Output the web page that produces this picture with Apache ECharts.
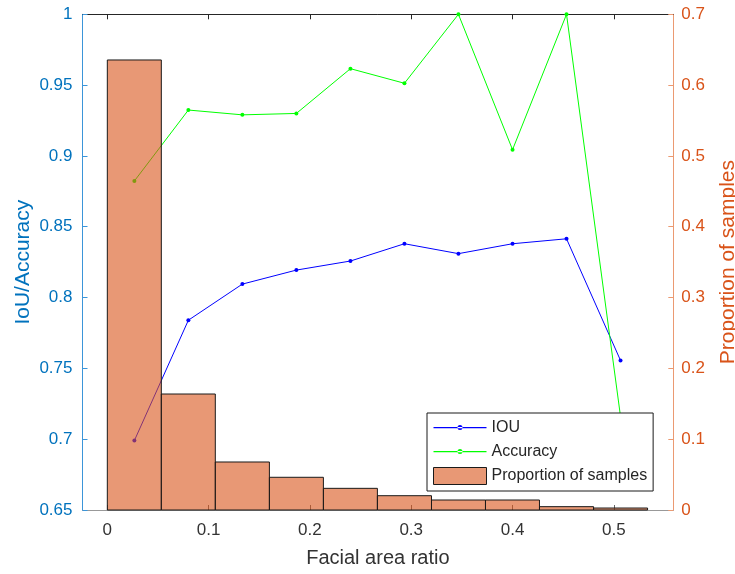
<!DOCTYPE html>
<html>
<head>
<meta charset="utf-8">
<script src="https://cdn.jsdelivr.net/npm/echarts@6/dist/echarts.min.js"></script>
<style>
  html, body { margin: 0; padding: 0; background: #fff; }
  #chart { width: 735px; height: 574px; }
</style>
</head>
<body>
<div id="chart"></div>
<script>
// 直方图的分箱边界（面部面积比）
var binEdges = [0, 0.0533, 0.1066, 0.16, 0.2133, 0.2666, 0.32, 0.3733, 0.4266, 0.48, 0.5333]
// 每个分箱的样本占比
var proportion = [0.6355, 0.1638, 0.0678, 0.0462, 0.0306, 0.0202, 0.0141, 0.0141, 0.0047, 0.0028]
// 折线的横坐标（分箱中心）
var binCenters = [0.0267, 0.08, 0.1333, 0.1866, 0.24, 0.2933, 0.3466, 0.4, 0.4533, 0.5066]
var iouValues = [0.699, 0.784, 0.8095, 0.8194, 0.8258, 0.838, 0.831, 0.838, 0.8415, 0.7556]
var accuracyValues = [0.8823, 0.9324, 0.929, 0.930, 0.9616, 0.9513, 1.0, 0.9044, 1.0, 0.716]
// 刻度
var xTicks = [0, 0.1, 0.2, 0.3, 0.4, 0.5]

var fontFamily = 'Liberation Sans, Arial, sans-serif'
var leftColor = '#0072BD'
var rightColor = '#D95319'
// 图例图标：细线 + 小圆点
var lineDotIcon = 'path://M0,0M53,17M0,8h53v1.2h-53zM24,8.6a2.5,2.5 0 1,0 5,0a2.5,2.5 0 1,0 -5,0z'

let histData = []
proportion.forEach((p, i) => {
  histData.push([binEdges[i], binEdges[i + 1], p])
})
let iouData = binCenters.map((x, i) => [x, iouValues[i]])
let accData = binCenters.map((x, i) => [x, accuracyValues[i]])

let chart = echarts.init(document.getElementById('chart'))
chart.setOption({
  animation: false,
  textStyle: { fontFamily: fontFamily },
  grid: { left: 82.5, right: 61.7, top: 14.3, bottom: 64, containLabel: false, outerBoundsMode: 'none' },
  legend: {
    orient: 'vertical',
    left: 427,
    top: 413,
    itemWidth: 53,
    itemHeight: 17,
    itemGap: 7,
    padding: [6, 6, 6, 6],
    borderColor: '#1a1a1a',
    borderWidth: 1,
    backgroundColor: '#fff',
    textStyle: { fontSize: 16, color: '#262626', fontFamily: fontFamily },
    data: [
      { name: 'IOU', icon: lineDotIcon, itemStyle: { color: '#0000FF', borderWidth: 0 } },
      { name: 'Accuracy', icon: lineDotIcon, itemStyle: { color: '#00FF00', borderWidth: 0 } },
      {
        name: 'Proportion of samples',
        icon: 'rect',
        itemStyle: { color: 'rgba(217,83,25,0.6)', borderColor: '#1a1a1a', borderWidth: 1 }
      }
    ]
  },
  xAxis: [
    {
      type: 'value',
      position: 'bottom',
      min: -0.0245,
      max: 0.5587,
      name: 'Facial area ratio',
      nameLocation: 'middle',
      nameGap: 38,
      nameMoveOverlap: false,
      nameTextStyle: { fontSize: 20, color: '#333', fontFamily: fontFamily },
      axisLine: { show: true, lineStyle: { color: '#999', width: 1 } },
      axisTick: { show: true, inside: true, length: 5, customValues: xTicks, lineStyle: { color: '#666' } },
      axisLabel: { customValues: xTicks, fontSize: 17, color: '#333', margin: 12 },
      splitLine: { show: false }
    },
    {
      type: 'value',
      position: 'top',
      min: -0.0245,
      max: 0.5587,
      axisLine: { show: true, onZero: false, lineStyle: { color: '#262626', width: 1 } },
      axisTick: { show: true, inside: true, length: 5, customValues: xTicks, lineStyle: { color: '#262626' } },
      axisLabel: { show: false },
      splitLine: { show: false }
    }
  ],
  yAxis: [
    {
      type: 'value',
      position: 'left',
      min: 0.65,
      max: 1,
      interval: 0.05,
      name: 'IoU/Accuracy',
      nameLocation: 'middle',
      nameGap: 49,
      nameMoveOverlap: false,
      nameTextStyle: { fontSize: 21, color: leftColor, fontFamily: fontFamily },
      axisLine: { show: true, onZero: false, lineStyle: { color: '#3b95d9', width: 1 } },
      axisTick: { show: true, inside: true, length: 5, lineStyle: { color: '#3b95d9' } },
      axisLabel: { fontSize: 17, color: leftColor, margin: 10 },
      splitLine: { show: false }
    },
    {
      type: 'value',
      position: 'right',
      min: 0,
      max: 0.7,
      interval: 0.1,
      name: 'Proportion of samples',
      nameLocation: 'middle',
      nameGap: 44,
      nameMoveOverlap: false,
      nameTextStyle: { fontSize: 21, color: rightColor, fontFamily: fontFamily },
      axisLine: { show: true, onZero: false, lineStyle: { color: '#eb9a72', width: 1 } },
      axisTick: { show: true, inside: true, length: 5, lineStyle: { color: '#eb9a72' } },
      axisLabel: { fontSize: 17, color: rightColor, margin: 8 },
      splitLine: { show: false }
    }
  ],
  series: [
    {
      name: 'IOU',
      type: 'line',
      xAxisIndex: 0,
      yAxisIndex: 0,
      data: iouData,
      symbol: 'circle',
      symbolSize: 4,
      color: '#0000FF',
      lineStyle: { color: '#0000FF', width: 1 },
      itemStyle: { color: '#0000FF' },
      z: 2
    },
    {
      name: 'Accuracy',
      type: 'line',
      xAxisIndex: 0,
      yAxisIndex: 0,
      data: accData,
      symbol: 'circle',
      symbolSize: 4,
      color: '#00FF00',
      lineStyle: { color: '#00FF00', width: 1 },
      itemStyle: { color: '#00FF00' },
      z: 2
    },
    {
      name: 'Proportion of samples',
      type: 'custom',
      xAxisIndex: 0,
      yAxisIndex: 1,
      data: histData,
      encode: { x: [0, 1], y: 2 },
      itemStyle: { color: 'rgba(217,83,25,0.6)', borderColor: '#1a1a1a' },
      z: 3,
      renderItem: function (params, api) {
        let p0 = api.coord([api.value(0), api.value(2)])
        let p1 = api.coord([api.value(1), 0])
        return {
          type: 'rect',
          shape: { x: p0[0], y: p0[1], width: p1[0] - p0[0], height: p1[1] - p0[1] },
          style: { fill: 'rgba(217,83,25,0.6)', stroke: '#1a1a1a', lineWidth: 1 }
        }
      }
    }
  ]
})
</script>
</body>
</html>
